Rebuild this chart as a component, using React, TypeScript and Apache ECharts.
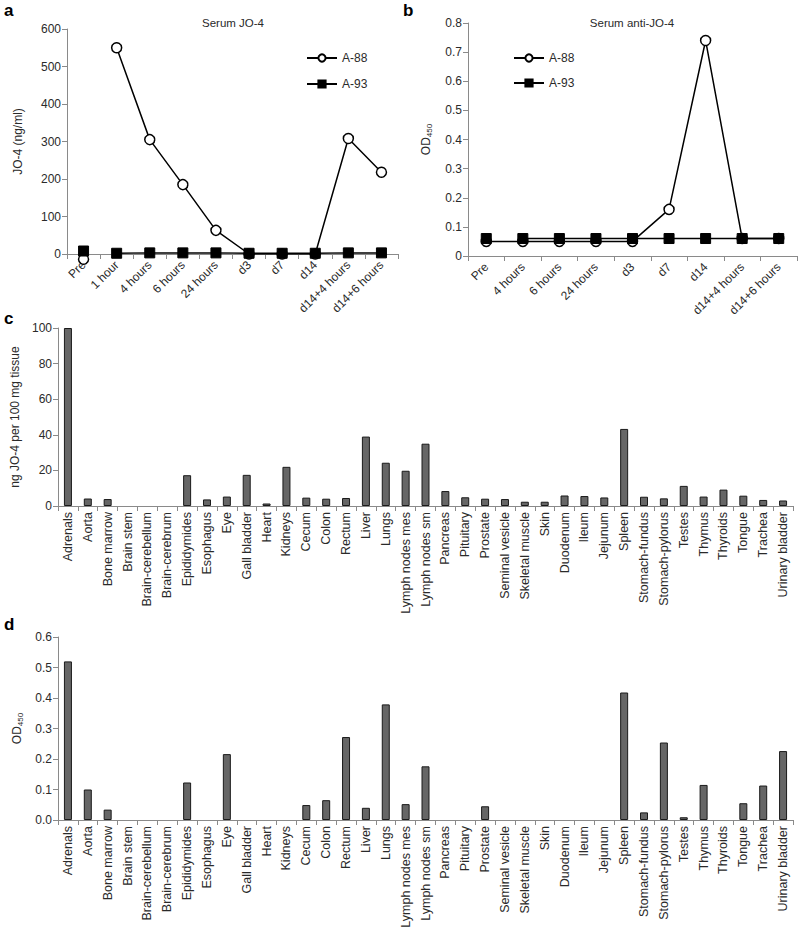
import React, { useEffect, useRef } from "react";
import * as echarts from "echarts";

// Panel a: Serum JO-4
const aCategories = ["Pre", "1 hour", "4 hours", "6 hours", "24 hours", "d3", "d7", "d14", "d14+4 hours", "d14+6 hours"];
const aA88 = [null, 550, 305, 185, 63, 0, 0, 0, 308, 218];
const aA88Pre = [-14, null, null, null, null, null, null, null, null, null];
const aA93 = [null, 2, 3, 3, 3, 2, 2, 2, 3, 3];
const aA93Pre = [8, null, null, null, null, null, null, null, null, null];

// Panel b: Serum anti-JO-4
const bCategories = ["Pre", "4 hours", "6 hours", "24 hours", "d3", "d7", "d14", "d14+4 hours", "d14+6 hours"];
const bA88 = [0.05, 0.05, 0.05, 0.05, 0.05, 0.16, 0.74, 0.06, 0.06];
const bA93 = [null, 0.06, 0.06, 0.06, 0.06, 0.06, 0.06, 0.06, 0.06];
const bA93Pre = [0.06, null, null, null, null, null, null, null, null];

// Panels c and d: tissues
const tissues = [
  "Adrenals", "Aorta", "Bone marrow", "Brain stem", "Brain-cerebellum", "Brain-cerebrum",
  "Epididymides", "Esophagus", "Eye", "Gall bladder", "Heart", "Kidneys", "Cecum", "Colon",
  "Rectum", "Liver", "Lungs", "Lymph nodes mes", "Lymph nodes sm", "Pancreas", "Pituitary",
  "Prostate", "Seminal vesicle", "Skeletal muscle", "Skin", "Duodenum", "Ileum", "Jejunum",
  "Spleen", "Stomach-fundus", "Stomach-pylorus", "Testes", "Thymus", "Thyroids", "Tongue",
  "Trachea", "Urinary bladder",
];
const cValues = [
  100, 4.2, 3.9, 0, 0, 0,
  17.3, 3.7, 5.3, 17.5, 1.4, 22, 4.7, 4.1,
  4.5, 39, 24.3, 19.8, 35, 8.4, 4.9,
  4.1, 3.9, 2.4, 2.4, 5.9, 5.6, 4.8,
  43.3, 5.2, 4.3, 11.3, 5.3, 9.2, 5.8,
  3.4, 3.1,
];
const dValues = [
  0.52, 0.1, 0.034, 0, 0, 0,
  0.123, 0, 0.216, 0, 0, 0, 0.049, 0.065,
  0.272, 0.04, 0.379, 0.052, 0.176, 0, 0,
  0.045, 0, 0, 0, 0, 0, 0,
  0.418, 0.025, 0.254, 0.009, 0.115, 0, 0.055,
  0.113, 0.226,
];

const FONT = "'Liberation Sans', Arial, sans-serif";
const TXT = "#2a2a2a";
const AX = "#8a8a8a";

function catAxis(gridIndex: number, data: string[], rotate: number, fontSize: number, margin: number) {
  return {
    type: "category",
    gridIndex,
    data,
    boundaryGap: true,
    axisLine: { show: true, lineStyle: { color: AX, width: 1 } },
    axisTick: { show: true, length: 5, lineStyle: { color: AX } },
    axisLabel: { rotate, fontSize, color: TXT, fontFamily: FONT, margin, interval: 0 },
    splitLine: { show: false },
  };
}

function valAxis(gridIndex: number, min: number, max: number, interval: number, name: string, nameGap: number, fmt?: (v: number) => string) {
  return {
    type: "value",
    gridIndex,
    min,
    max,
    interval,
    name,
    nameLocation: "middle",
    nameGap,
    nameTextStyle: {
      fontSize: 12,
      color: TXT,
      fontFamily: FONT,
      rich: {
        m: { fontSize: 12, color: TXT, fontFamily: FONT },
        s: { fontSize: 8, color: TXT, fontFamily: FONT, padding: [6, 0, 0, 0] },
      },
    },
    axisLine: { show: true, lineStyle: { color: AX, width: 1 } },
    axisTick: { show: true, length: 5, lineStyle: { color: AX } },
    axisLabel: { fontSize: 12, color: TXT, fontFamily: FONT, margin: 6, formatter: fmt },
    splitLine: { show: false },
  };
}

const circleStyle = { color: "#ffffff", borderColor: "#000000", borderWidth: 1.5 };
const squareStyle = { color: "#000000", borderColor: "#000000", borderWidth: 1 };

// zero-valued bars are drawn without an outline (so no flat line appears)
function barData(values: number[]) {
  return values.map((v) =>
    v === 0 ? { value: v, itemStyle: { borderWidth: 0, opacity: 0 } } : v
  );
}

export default function App() {
  const ref = useRef<HTMLDivElement>(null);
  useEffect(() => {
    if (!ref.current) return;
    const chart = echarts.init(ref.current, null, { renderer: "svg" });
    const option: any = {
      animation: false,
      backgroundColor: "#ffffff",
      textStyle: { fontFamily: FONT },
      grid: [
        { left: 67, top: 29, width: 331, height: 225, outerBoundsMode: "none" },
        { left: 468, top: 23, width: 329, height: 233, outerBoundsMode: "none" },
        { left: 58, top: 328, width: 735, height: 178, outerBoundsMode: "none" },
        { left: 58, top: 637, width: 735, height: 183, outerBoundsMode: "none" },
      ],
      xAxis: [
        catAxis(0, aCategories, 45, 12, 9),
        catAxis(1, bCategories, 45, 12, 9),
        catAxis(2, tissues, 90, 12.5, 6),
        catAxis(3, tissues, 90, 12.5, 6),
      ],
      yAxis: [
        valAxis(0, 0, 600, 100, "JO-4 (ng/ml)", 43),
        valAxis(1, 0, 0.8, 0.1, "{m|OD}{s|450}", 35),
        valAxis(2, 0, 100, 20, "ng JO-4 per 100 mg tissue", 33),
        valAxis(3, 0, 0.6, 0.1, "{m|OD}{s|450}", 31, (v: number) => v.toFixed(1)),
      ],
      legend: [
        {
          left: 301, top: 47, orient: "vertical", itemWidth: 30, itemHeight: 9, itemGap: 14,
          selectedMode: false, data: ["A-88", "A-93"],
          textStyle: { fontSize: 12, color: TXT, fontFamily: FONT },
        },
        {
          left: 508, top: 47, orient: "vertical", itemWidth: 30, itemHeight: 9, itemGap: 13,
          selectedMode: false, data: ["A-88", "A-93"],
          textStyle: { fontSize: 12, color: TXT, fontFamily: FONT },
        },
      ],
      graphic: [
        { type: "text", left: 4, top: 2, style: { text: "a", fontSize: 17, fontWeight: "bold", fill: "#000", fontFamily: FONT } },
        { type: "text", left: 403, top: 2, style: { text: "b", fontSize: 17, fontWeight: "bold", fill: "#000", fontFamily: FONT } },
        { type: "text", left: 4, top: 310, style: { text: "c", fontSize: 17, fontWeight: "bold", fill: "#000", fontFamily: FONT } },
        { type: "text", left: 4, top: 616, style: { text: "d", fontSize: 17, fontWeight: "bold", fill: "#000", fontFamily: FONT } },
        { type: "text", x: 233, y: 23, style: { text: "Serum JO-4", fontSize: 11.5, fill: TXT, fontFamily: FONT, align: "center", verticalAlign: "middle" } },
        { type: "text", x: 632, y: 23, style: { text: "Serum anti-JO-4", fontSize: 11.5, fill: TXT, fontFamily: FONT, align: "center", verticalAlign: "middle" } },
      ],
      series: [
        {
          name: "A-88", type: "line", xAxisIndex: 0, yAxisIndex: 0, data: aA88,
          symbol: "circle", symbolSize: 10, lineStyle: { color: "#000", width: 1.5 },
          itemStyle: circleStyle, z: 3,
        },
        {
          name: "A-88 pre", type: "line", xAxisIndex: 0, yAxisIndex: 0, data: aA88Pre, clip: false,
          symbol: "circle", symbolSize: 10, lineStyle: { color: "#000", width: 1.5 },
          itemStyle: circleStyle, z: 3,
        },
        {
          name: "A-93", type: "line", xAxisIndex: 0, yAxisIndex: 0, data: aA93,
          symbol: "rect", symbolSize: 10, lineStyle: { color: "#000", width: 1.5 },
          itemStyle: squareStyle, z: 4,
        },
        {
          name: "A-93 pre", type: "line", xAxisIndex: 0, yAxisIndex: 0, data: aA93Pre,
          symbol: "rect", symbolSize: 10, lineStyle: { color: "#000", width: 1.5 },
          itemStyle: squareStyle, z: 4,
        },
        {
          name: "A-88", type: "line", xAxisIndex: 1, yAxisIndex: 1, data: bA88,
          symbol: "circle", symbolSize: 10, lineStyle: { color: "#000", width: 1.5 },
          itemStyle: circleStyle, z: 3,
        },
        {
          name: "A-93", type: "line", xAxisIndex: 1, yAxisIndex: 1, data: bA93,
          symbol: "rect", symbolSize: 10, lineStyle: { color: "#000", width: 1.5 },
          itemStyle: squareStyle, z: 4,
        },
        {
          name: "A-93 pre b", type: "line", xAxisIndex: 1, yAxisIndex: 1, data: bA93Pre,
          symbol: "rect", symbolSize: 10, lineStyle: { color: "#000", width: 1.5 },
          itemStyle: squareStyle, z: 4,
        },
        {
          name: "JO-4 tissue", type: "bar", xAxisIndex: 2, yAxisIndex: 2, data: barData(cValues),
          barWidth: 8, itemStyle: { color: "#666666", borderColor: "#1a1a1a", borderWidth: 1 },
        },
        {
          name: "OD tissue", type: "bar", xAxisIndex: 3, yAxisIndex: 3, data: barData(dValues),
          barWidth: 8, itemStyle: { color: "#666666", borderColor: "#1a1a1a", borderWidth: 1 },
        },
      ],
    };
    chart.setOption(option);
    return () => chart.dispose();
  }, []);
  return (
    <div
      ref={ref}
      style={{ position: "absolute", left: 0, top: 0, width: 800, height: 934, background: "#fff" }}
    />
  );
}
